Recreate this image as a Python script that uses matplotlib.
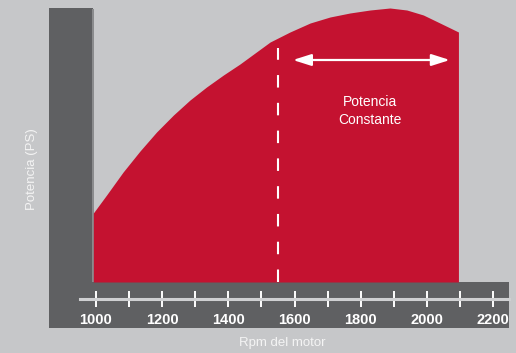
import matplotlib
matplotlib.use("Agg")
import matplotlib.pyplot as plt
from matplotlib.patches import Rectangle

plt.rcParams['font.family'] = ['Liberation Sans', 'DejaVu Sans']
plt.rcParams['lines.scale_dashes'] = False

# curva de potencia (valores relativos)
rpm = [992, 1032, 1082, 1133, 1183, 1234, 1284, 1334, 1385, 1435, 1526,
       1586, 1647, 1707, 1767, 1828, 1888, 1939, 1989, 2039, 2095]
potencia = [69, 87, 110, 131, 150, 167, 182, 195, 207, 218, 240,
            250, 259, 265, 269, 272, 274, 272, 267, 259, 250]
rpm_ticks = [1000, 1100, 1200, 1300, 1400, 1500, 1600, 1700, 1800, 1900, 2000, 2100, 2200]
tick_labels = ['1000', '', '1200', '', '1400', '', '1600', '', '1800', '', '2000', '', '2200']
rpm_corte = 1550          # inicio de potencia constante
rango_constante = (1595, 2069)

BG = '#c6c7c9'
DARK = '#5f6062'
RED = '#c41230'

W, H = 516, 353
fig = plt.figure(figsize=(W / 100, H / 100), dpi=100, facecolor=BG)


def px_rect(x0, y0, x1, y1, **kw):
    # rectángulo en píxeles (origen arriba-izquierda)
    r = Rectangle((x0 / W, 1 - y1 / H), (x1 - x0) / W, (y1 - y0) / H,
                  transform=fig.transFigure, zorder=-1, lw=0, **kw)
    fig.add_artist(r)


# barras grises de fondo (marco del gráfico)
px_rect(49, 8, 93, 282, color=DARK)
px_rect(49, 282, 509, 328, color=DARK)
px_rect(92, 9, 93.5, 282, color='#8a8b8d')

ax = fig.add_axes([0, 0, 1, 1])
ax.patch.set_alpha(0)
ax.set_xlim(710.0, 2268.9)
ax.set_ylim(-71, 282)

ax.fill_between(rpm, potencia, 0, color=RED, lw=0, zorder=2)

# línea discontinua
ax.plot([rpm_corte, rpm_corte], [0, 234], color='white', lw=1.5,
        linestyle=(0, (9, 11)), zorder=3)

# flecha de potencia constante
ax.annotate('', xy=(rango_constante[1], 222), xytext=(rango_constante[0], 222),
            arrowprops=dict(arrowstyle='<|-|>,head_length=1.1,head_width=0.35',
                            color='white', lw=1.6, shrinkA=0, shrinkB=0), zorder=4)
ax.text(1827, 171, 'Potencia\nConstante', color='white', fontsize=10,
        ha='center', va='center', linespacing=1.45, zorder=4)

# eje x
for s in ['top', 'left', 'right']:
    ax.spines[s].set_visible(False)
ax.spines['bottom'].set_position(('data', -17))
ax.spines['bottom'].set_bounds(952, 2248)
ax.spines['bottom'].set_color('#cfd0d2')
ax.spines['bottom'].set_linewidth(2.2)
ax.set_yticks([])
ax.set_xticks(rpm_ticks)
ax.set_xticklabels(tick_labels)
ax.tick_params(axis='x', direction='inout', length=11.5, width=1.4,
               color='white', labelcolor='white', labelsize=10.5, pad=4.5)
for lab in ax.get_xticklabels():
    lab.set_fontweight('bold')

fig.text(282 / W, 1 - 343 / H, 'Rpm del motor', color='#f4f4f4', fontsize=9.5,
         ha='center', va='center')
fig.text(32 / W, 1 - 169 / H, 'Potencia (PS)', color='#f4f4f4', fontsize=9.5,
         ha='center', va='center', rotation=90)

fig.savefig('out.png', dpi=100, facecolor=BG)
